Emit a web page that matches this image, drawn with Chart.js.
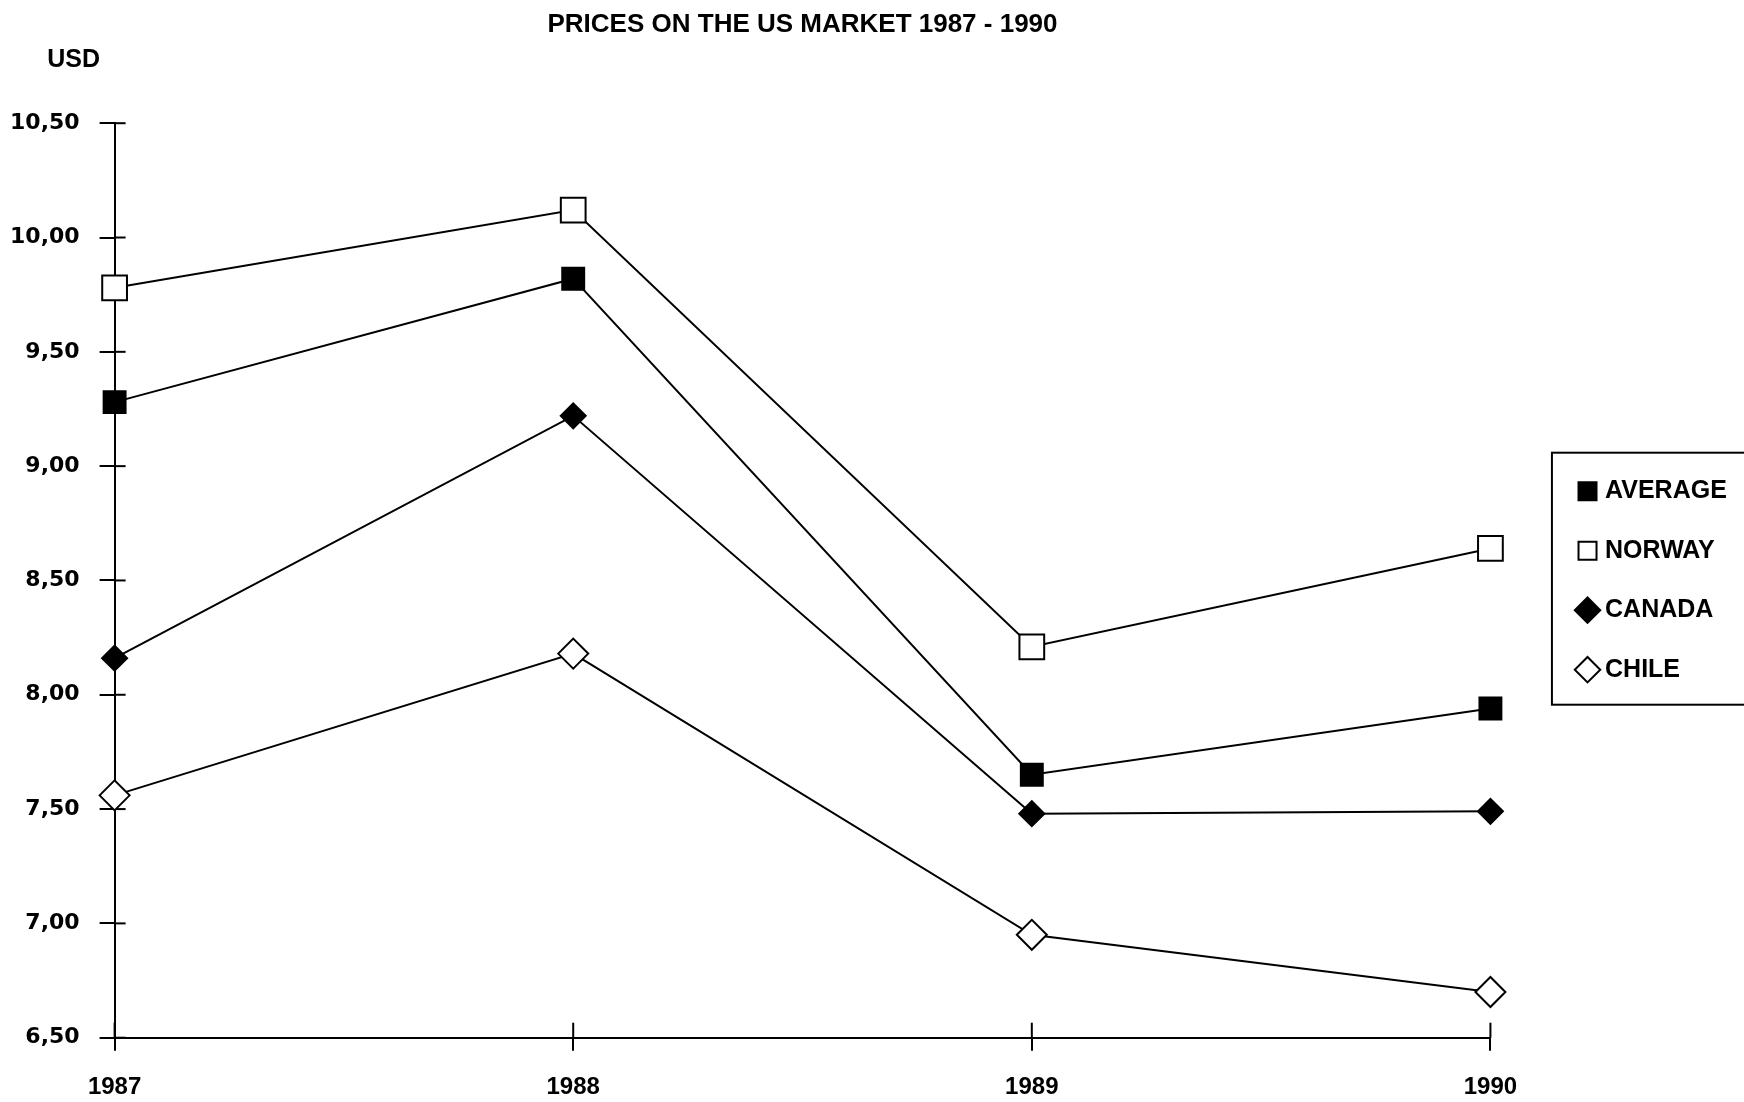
<!DOCTYPE html>
<html>
<head>
<meta charset="utf-8">
<title>Prices on the US market 1987 - 1990</title>
<script src="https://cdn.jsdelivr.net/npm/chart.js@4.4.0/dist/chart.umd.min.js"></script>
<style>
  html, body { margin: 0; padding: 0; background: #fff; }
  #wrap { width: 1744px; height: 1102px; position: relative; }
</style>
</head>
<body>
<div id="wrap"><canvas id="prices"></canvas></div>
<script>
"use strict";

var years = ['1987', '1988', '1989', '1990'];
var average = [9.28, 9.82, 7.65, 7.94];
var norway = [9.78, 10.12, 8.21, 8.64];
var canada = [8.16, 9.22, 7.48, 7.49];
var chile = [7.56, 8.18, 6.95, 6.70];
var yMin = 6.5, yMax = 10.5, yStep = 0.5;

// ticks crossing the axes, the USD label and the frame round the legend
var extras = {
  id: 'extras',
  afterLayout: function(chart) {
    // the printout keeps a wide gap between the plot and the legend
    chart.legend.left += 57.6;
    chart.legend.right += 57.6;
  },
  beforeDatasetsDraw: function(chart) {
    var ctx = chart.ctx, a = chart.chartArea;
    var xs = chart.scales.x, ys = chart.scales.y;
    ctx.save();
    ctx.strokeStyle = '#000';
    ctx.lineWidth = 2;
    ys.ticks.forEach(function(t) {
      var py = ys.getPixelForValue(t.value);
      ctx.beginPath(); ctx.moveTo(a.left, py); ctx.lineTo(a.left + 11, py); ctx.stroke();
    });
    xs.ticks.forEach(function(t, i) {
      var px = xs.getPixelForTick(i);
      ctx.beginPath(); ctx.moveTo(px, a.bottom); ctx.lineTo(px, a.bottom - 15); ctx.stroke();
    });
    ctx.restore();
  },
  afterDraw: function(chart) {
    var ctx = chart.ctx, a = chart.chartArea;
    ctx.save();
    ctx.fillStyle = '#000';
    ctx.font = 'bold 25px "Liberation Sans"';
    ctx.textAlign = 'center';
    ctx.textBaseline = 'middle';
    ctx.fillText('USD', a.left - 41, a.top - 63);

    var lg = chart.legend, pad = lg.options.labels.padding;
    var top = (lg.top + pad + lg.bottom - lg.columnSizes[0].height) / 2;
    ctx.strokeStyle = '#000';
    ctx.lineWidth = 2;
    ctx.strokeRect(lg.left + pad - 30.6, top - 26, 300, 252);
    ctx.restore();
  }
};

Chart.defaults.color = '#000';

var ctx = document.getElementById('prices').getContext('2d');
var myChart = new Chart(ctx, {
  type: 'line',
  data: {
    labels: years,
    datasets: [{
      label: 'AVERAGE',
      data: average,
      borderColor: '#000',
      pointStyle: 'rect',
      pointRadius: 15.5,
      pointBackgroundColor: '#000'
    }, {
      label: 'NORWAY',
      data: norway,
      borderColor: '#000',
      pointStyle: 'rect',
      pointRadius: 17.5,
      pointBackgroundColor: '#fff'
    }, {
      label: 'CANADA',
      data: canada,
      borderColor: '#000',
      pointStyle: 'rectRot',
      pointRadius: 12.5,
      pointBackgroundColor: '#000'
    }, {
      label: 'CHILE',
      data: chile,
      borderColor: '#000',
      pointStyle: 'rectRot',
      pointRadius: 15,
      pointBackgroundColor: '#fff'
    }]
  },
  options: {
    responsive: true,
    maintainAspectRatio: false,
    animation: false,
    datasets: {
      line: {
        borderWidth: 2,
        pointBorderColor: '#000',
        pointBorderWidth: 2,
        tension: 0,
        fill: false,
        clip: false
      }
    },
    layout: { padding: { left: 10, right: 64.8, top: 0, bottom: 0 } },
    plugins: {
      colors: { enabled: false },
      tooltip: { enabled: false },
      title: {
        display: true,
        text: 'PRICES ON THE US MARKET 1987 - 1990',
        fullSize: false,
        color: '#000',
        font: { family: '"Liberation Sans"', size: 26, weight: 'bold' },
        padding: { top: 9, bottom: 83 }
      },
      legend: {
        position: 'right',
        fullSize: false,
        labels: {
          usePointStyle: true,
          boxHeight: 18,
          boxWidth: 10,
          padding: 34.5,
          color: '#000',
          font: { family: '"Liberation Sans"', size: 25, weight: 'bold' }
        }
      }
    },
    scales: {
      x: {
        offset: false,
        afterFit: function(scale) { scale.height = 64.3; },
        grid: { drawOnChartArea: false, color: '#000', lineWidth: 2, tickLength: 13 },
        border: { color: '#000', width: 2 },
        ticks: {
          autoSkip: false, maxRotation: 0, padding: 22, color: '#000',
          font: { family: '"Liberation Sans"', size: 24, weight: 'bold' }
        }
      },
      y: {
        min: yMin,
        max: yMax,
        afterFit: function(scale) { scale.width = 104.6; },
        grid: { drawOnChartArea: false, color: '#000', lineWidth: 2, tickLength: 15 },
        border: { color: '#000', width: 2 },
        ticks: {
          stepSize: yStep, padding: 20, color: '#000',
          font: { family: '"DejaVu Sans"', size: 22, weight: 'bold' },
          callback: function(v) { return v.toFixed(2).replace('.', ','); }
        }
      }
    }
  },
  plugins: [extras]
});
</script>
</body>
</html>
